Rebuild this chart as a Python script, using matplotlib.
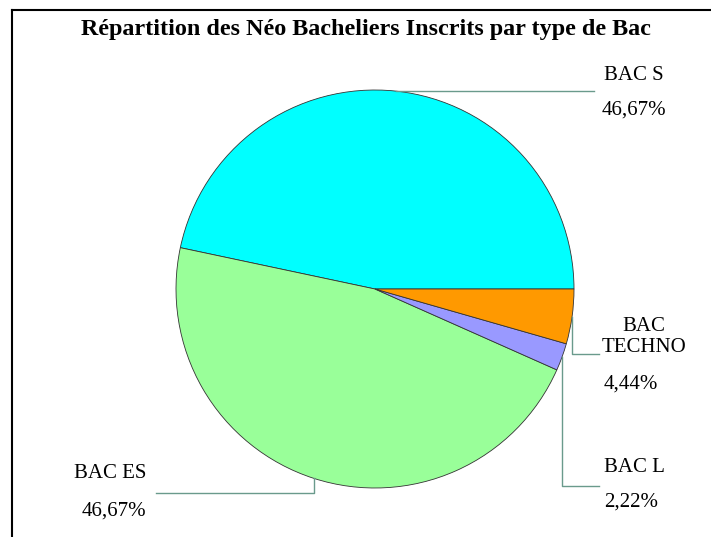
import numpy as np
import matplotlib
matplotlib.use("Agg")
import matplotlib.pyplot as plt
from matplotlib.lines import Line2D

categories = ["BAC S", "BAC ES", "BAC L", "BAC\nTECHNO"]
values = [46.67, 46.67, 2.22, 4.44]
colors = ["#00FFFF", "#99FF99", "#9999FF", "#FF9900"]
title = "Répartition des Néo Bacheliers Inscrits par type de Bac"

W, H = 711, 537
fig = plt.figure(figsize=(W / 100, H / 100), dpi=100)
fig.patch.set_facecolor("white")
ax = fig.add_axes([0, 0, 1, 1])

cx, cy, r = 375, H - 289, 199
wedges, _ = ax.pie(values, colors=colors, startangle=0, counterclock=True,
                   center=(cx, cy), radius=r, frame=True,
                   wedgeprops=dict(edgecolor="#333333", linewidth=0.6))
ax.set_xlim(0, W)
ax.set_ylim(0, H)
ax.set_aspect("equal")
ax.set_axis_off()

serif = ["Liberation Serif", "DejaVu Serif"]
lc = "#6a9a8c"

def pct(v):
    return f"{v:.2f}".replace(".", ",") + "%"

# mid-angle anchors on the rim
mids = []
for w in wedges:
    a = np.deg2rad((w.theta1 + w.theta2) / 2)
    mids.append((cx + r * np.cos(a), cy + r * np.sin(a)))

# BAC S
x0, y0 = mids[0]
ax.plot([x0, 594], [y0, y0], color=lc, lw=1)
ax.text(634, H - 75, categories[0], ha="center", va="center", fontsize=15, family=serif)
ax.text(634, H - 110, pct(values[0]), ha="center", va="center", fontsize=15, family=serif)

# BAC ES
x0, y0 = mids[1]
ax.plot([x0, x0, 156], [y0, H - 493, H - 493], color=lc, lw=1)
ax.text(146, H - 473, categories[1], ha="right", va="center", fontsize=15, family=serif)
ax.text(146, H - 511, pct(values[1]), ha="right", va="center", fontsize=15, family=serif)

# BAC L
x0, y0 = mids[2]
ax.plot([x0, x0, 599], [y0, H - 486, H - 486], color=lc, lw=1)
ax.text(604, H - 467, categories[2], ha="left", va="center", fontsize=15, family=serif)
ax.text(604, H - 502, pct(values[2]), ha="left", va="center", fontsize=15, family=serif)

# BAC TECHNO
x0, y0 = mids[3]
ax.plot([x0, x0, 599], [y0, H - 354, H - 354], color=lc, lw=1)
ax.text(644, H - 337, categories[3], ha="center", va="center", fontsize=15,
        family=serif, multialignment="center", linespacing=1.1)
ax.text(604, H - 384, pct(values[3]), ha="left", va="center", fontsize=15, family=serif)

# title
ax.text(366, H - 30, title, ha="center", va="center", fontsize=17.4,
        fontweight="bold", family=serif)

# partial frame
fig.add_artist(Line2D([12 / W, 12 / W], [0, 1 - 10 / H], transform=fig.transFigure,
                      color="black", lw=1.5))
fig.add_artist(Line2D([12 / W, 1], [1 - 10 / H, 1 - 10 / H], transform=fig.transFigure,
                      color="black", lw=1.5))

fig.savefig("out.png", dpi=100, facecolor="white")
